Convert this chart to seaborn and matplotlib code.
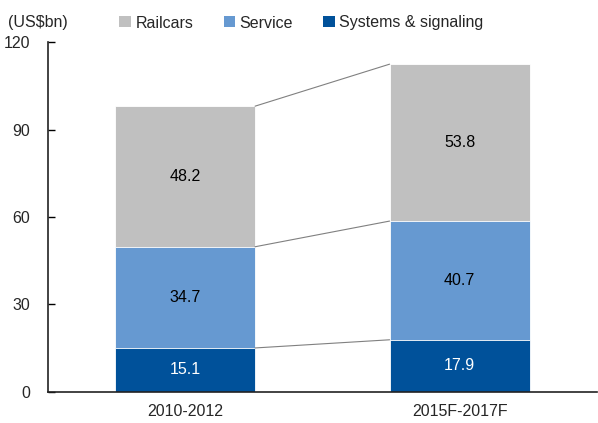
import numpy as np
import pandas as pd
import matplotlib
matplotlib.use("Agg")
import matplotlib.pyplot as plt
from matplotlib.patches import Patch
import seaborn as sns

periods = ["2010-2012", "2015F-2017F"]
systems = [15.1, 17.9]
service = [34.7, 40.7]
railcars = [48.2, 53.8]
series_names = ["Railcars", "Service", "Systems & signaling"]
y_ticks = [0, 30, 60, 90, 120]

colors = {"Railcars": "#C0C0C0", "Service": "#6699D1", "Systems & signaling": "#00519A"}

sns.set_theme(style="white")
plt.rcParams["font.family"] = ["Liberation Sans", "DejaVu Sans"]

sys_a = np.array(systems)
srv_top = sys_a + np.array(service)
rail_top = srv_top + np.array(railcars)

df = pd.DataFrame({
    "period": periods * 3,
    "top": list(rail_top) + list(srv_top) + list(sys_a),
    "series": ["Railcars"] * 2 + ["Service"] * 2 + ["Systems & signaling"] * 2,
})

fig = plt.figure(figsize=(5.98, 4.23), dpi=100)
ax = fig.add_axes([0.080, 0.0733, 0.918, 0.8274])

width = 0.51
for name in series_names:
    sub = df[df["series"] == name]
    sns.barplot(data=sub, x="period", y="top", color=colors[name], width=width,
                ax=ax, saturation=1, edgecolor="white", linewidth=0.6, errorbar=None)

# connector lines between segment tops
for tops in (sys_a, srv_top, rail_top):
    ax.plot([0 + width / 2, 1 - width / 2], [tops[0], tops[1]],
            color="#808080", lw=0.8, zorder=1)

# segment value labels
lab_fs = 11.5
for i in range(2):
    ax.text(i, sys_a[i] / 2, f"{systems[i]:.1f}", ha="center", va="center",
            color="white", fontsize=lab_fs)
    ax.text(i, sys_a[i] + service[i] / 2, f"{service[i]:.1f}", ha="center",
            va="center", color="black", fontsize=lab_fs)
    ax.text(i, srv_top[i] + railcars[i] / 2, f"{railcars[i]:.1f}", ha="center",
            va="center", color="black", fontsize=lab_fs)

ax.set_xlim(-0.5, 1.5)
ax.set_ylim(0, 120)
ax.set_yticks(y_ticks)
ax.set_yticklabels([str(t) for t in y_ticks], fontsize=11.5)
ax.set_xticks([0.5], minor=False)
ax.set_xticklabels([""])
ax.set_xticks([0, 1], minor=True)
ax.set_xticklabels(periods, minor=True, fontsize=11.5)
ax.tick_params(axis="x", which="major", direction="in", length=5, width=1, color="black")
ax.tick_params(axis="x", which="minor", length=0, pad=9)
ax.tick_params(axis="y", direction="in", length=5, width=1, color="black", pad=13, left=True)
ax.set_xlabel("")
ax.set_ylabel("")

for side in ("top", "right"):
    ax.spines[side].set_visible(False)
for side in ("left", "bottom"):
    ax.spines[side].set_color("#222222")
    ax.spines[side].set_linewidth(1.2)

fig.text(8 / 598, 1 - 23 / 423, "(US$bn)", ha="left", va="center", fontsize=11.5)

handles = [Patch(facecolor=colors[n], edgecolor="none", label=n) for n in series_names]
fig.legend(handles=handles, loc="center left", bbox_to_anchor=(113 / 598, 1 - 23 / 423),
           ncol=3, frameon=False, fontsize=11.5, handlelength=0.7, handleheight=0.7,
           handletextpad=0.3, columnspacing=1.9, borderaxespad=0)

fig.savefig("out.png", dpi=100)
